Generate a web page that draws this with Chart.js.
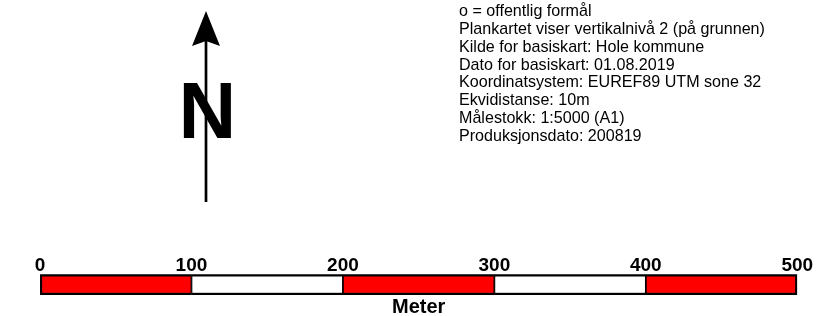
<!DOCTYPE html>
<html>
<head>
<meta charset="utf-8">
<script src="https://cdn.jsdelivr.net/npm/chart.js@4/dist/chart.umd.min.js"></script>
<style>
  html, body { margin: 0; padding: 0; background: #ffffff; }
  canvas { display: block; }
</style>
</head>
<body>
<canvas id="c" width="828" height="316"></canvas>
<script>
// ---- data ----
const scaleUnit = 'Meter';
const segmentLengths = [100, 100, 100, 100, 100];
const tickValues = [0, 100, 200, 300, 400, 500];
const notes = [
  'o = offentlig formål',
  'Plankartet viser vertikalnivå 2 (på grunnen)',
  'Kilde for basiskart: Hole kommune',
  'Dato for basiskart: 01.08.2019',
  'Koordinatsystem: EUREF89 UTM sone 32',
  'Ekvidistanse: 10m',
  'Målestokk: 1:5000 (A1)',
  'Produksjonsdato: 200819'
];
const northLabel = 'N';

// ---- styles ----
const segmentColors = ['#ff0000', '#ffffff', '#ff0000', '#ffffff', '#ff0000'];
const FONT = '"Liberation Sans", Arial, Helvetica, sans-serif';

const datasets = segmentLengths.map((v, i) => ({
  label: 'seg' + i,
  data: [v],
  backgroundColor: segmentColors[i],
  borderColor: '#000000',
  borderSkipped: false,
  borderWidth: {
    top: 2.5,
    bottom: 2.5,
    left: i === 0 ? 2.5 : 1.2,
    right: i === segmentLengths.length - 1 ? 2.5 : 1.2
  },
  barPercentage: 1,
  categoryPercentage: 1
}));

const decorations = {
  id: 'decorations',
  beforeDraw(chart) {
    const ctx = chart.ctx;
    ctx.save();
    ctx.fillStyle = '#ffffff';
    ctx.fillRect(0, 0, chart.width, chart.height);
    ctx.restore();
  },
  afterDraw(chart) {
    const ctx = chart.ctx;
    ctx.save();
    // notes block
    ctx.fillStyle = '#000000';
    ctx.font = '16.1px ' + FONT;
    ctx.textAlign = 'left';
    ctx.textBaseline = 'alphabetic';
    notes.forEach((t, i) => ctx.fillText(t, 459, 15.8 + i * 17.9));

    // north arrow
    ctx.font = 'bold 80px ' + FONT;
    ctx.textAlign = 'center';
    ctx.fillText(northLabel, 207.5, 138.3);
    ctx.strokeStyle = '#000000';
    ctx.lineWidth = 2.7;
    ctx.beginPath();
    ctx.moveTo(206, 40);
    ctx.lineTo(206, 202);
    ctx.stroke();
    ctx.beginPath();
    ctx.moveTo(206, 11);
    ctx.lineTo(192, 46);
    ctx.lineTo(206, 41);
    ctx.lineTo(220, 46);
    ctx.closePath();
    ctx.fill();
    ctx.restore();
  }
};

new Chart(document.getElementById('c'), {
  type: 'bar',
  data: { labels: [scaleUnit], datasets },
  options: {
    indexAxis: 'y',
    responsive: false,
    animation: false,
    layout: { padding: { top: 257.5, bottom: 0, left: 40, right: 30.7 } },
    scales: {
      x: {
        type: 'linear',
        position: 'top',
        stacked: true,
        min: tickValues[0],
        max: tickValues[tickValues.length - 1],
        afterBuildTicks(axis) { axis.ticks = tickValues.map(v => ({ value: v })); },
        ticks: {
          color: '#000000',
          padding: -3,
          maxRotation: 0,
          autoSkip: false,
          font: { family: FONT, size: 19, weight: 'bold', lineHeight: 1.2 }
        },
        grid: { display: false, drawTicks: false },
        border: { display: false }
      },
      y: { display: false, stacked: true }
    },
    plugins: {
      legend: { display: false },
      tooltip: { enabled: false },
      title: {
        display: true,
        text: scaleUnit,
        position: 'bottom',
        color: '#000000',
        padding: { top: 3, bottom: 0 },
        font: { family: FONT, size: 20, weight: 'bold', lineHeight: 0.9 }
      }
    }
  },
  plugins: [decorations]
});
</script>
</body>
</html>
